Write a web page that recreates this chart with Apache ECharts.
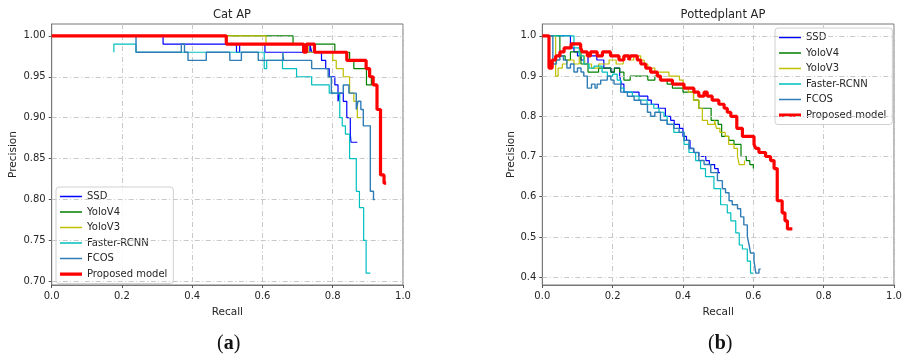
<!DOCTYPE html>
<html><head><meta charset="utf-8">
<script src="https://cdn.jsdelivr.net/npm/echarts@6/dist/echarts.min.js"></script>
<style>html,body{margin:0;padding:0;background:#fff}#c{width:908px;height:360px}</style>
</head><body><div id="c"></div>
<script>
// ---------- Cat AP (recall, precision) ----------
const catSSD = [[0,1.0],[0.317,0.99],[0.526,0.98],[0.535,0.99],[0.607,0.98],[0.735,0.99],[0.74,0.98],[0.768,0.97],[0.78,0.96],[0.79,0.95],[0.806,0.94],[0.815,0.92],[0.82,0.93],[0.83,0.92],[0.84,0.90],[0.85,0.88],[0.852,0.87],[0.87,0.87]];
const catYoloV4 = [[0,1.0],[0.687,0.99],[0.806,0.98],[0.848,0.97],[0.86,0.96],[0.896,0.94],[0.91,0.95],[0.912,0.94]];
const catYoloV3 = [[0,1.0],[0.61,0.99],[0.73,0.98],[0.80,0.97],[0.81,0.96],[0.83,0.95],[0.848,0.93],[0.86,0.92],[0.87,0.90],[0.88,0.90]];
const catFaster = [[0.177,0.98],[0.177,0.99],[0.24,0.98],[0.605,0.96],[0.612,0.97],[0.657,0.96],[0.697,0.95],[0.74,0.94],[0.79,0.93],[0.82,0.90],[0.827,0.89],[0.836,0.88],[0.848,0.85],[0.867,0.81],[0.876,0.79],[0.888,0.75],[0.895,0.71],[0.907,0.71]];
const catFCOS = [[0,1.0],[0.24,0.98],[0.369,0.99],[0.378,0.98],[0.388,0.97],[0.44,0.98],[0.507,0.97],[0.54,0.98],[0.588,0.97],[0.658,0.98],[0.66,0.97],[0.74,0.96],[0.787,0.95],[0.796,0.93],[0.83,0.94],[0.846,0.93],[0.867,0.91],[0.872,0.92],[0.88,0.91],[0.887,0.89],[0.907,0.81],[0.916,0.80],[0.92,0.80]];
const catProposed = [[0,1.0],[0.497,0.99],[0.717,0.98],[0.725,0.99],[0.748,0.98],[0.84,0.97],[0.895,0.96],[0.905,0.95],[0.915,0.94],[0.926,0.91],[0.936,0.83],[0.946,0.82],[0.952,0.82]];

// ---------- Pottedplant AP ----------
const potSSD = [[0,1.0],[0.08,0.97],[0.09,0.96],[0.10,0.95],[0.11,0.94],[0.12,0.93],[0.13,0.95],[0.155,0.94],[0.175,0.92],[0.195,0.91],[0.205,0.92],[0.22,0.90],[0.225,0.88],[0.232,0.86],[0.26,0.86],[0.275,0.85],[0.30,0.84],[0.31,0.83],[0.33,0.82],[0.35,0.80],[0.365,0.79],[0.375,0.78],[0.39,0.77],[0.40,0.75],[0.41,0.74],[0.42,0.72],[0.43,0.71],[0.445,0.70],[0.465,0.69],[0.475,0.68],[0.49,0.67],[0.50,0.66],[0.505,0.66]];
const potYoloV4 = [[0,1.0],[0.05,0.95],[0.065,0.94],[0.08,0.96],[0.10,0.96],[0.11,0.93],[0.13,0.91],[0.16,0.92],[0.195,0.91],[0.205,0.92],[0.22,0.91],[0.232,0.89],[0.25,0.90],[0.29,0.90],[0.30,0.89],[0.32,0.90],[0.335,0.89],[0.355,0.88],[0.37,0.87],[0.40,0.86],[0.43,0.84],[0.445,0.82],[0.46,0.82],[0.48,0.79],[0.50,0.78],[0.51,0.75],[0.53,0.74],[0.545,0.73],[0.565,0.70],[0.58,0.69],[0.59,0.68],[0.60,0.67]];
const potYoloV3 = [[0,1.0],[0.038,0.90],[0.045,0.92],[0.057,0.93],[0.07,0.94],[0.09,0.93],[0.105,0.95],[0.12,0.93],[0.14,0.92],[0.16,0.93],[0.19,0.94],[0.21,0.93],[0.23,0.95],[0.25,0.94],[0.26,0.95],[0.28,0.94],[0.29,0.93],[0.30,0.92],[0.32,0.91],[0.36,0.90],[0.39,0.89],[0.40,0.87],[0.415,0.86],[0.43,0.84],[0.445,0.82],[0.455,0.79],[0.47,0.78],[0.49,0.79],[0.495,0.77],[0.505,0.76],[0.52,0.75],[0.53,0.73],[0.545,0.72],[0.555,0.70],[0.56,0.68],[0.575,0.69]];
const potFaster = [[0,1.0],[0.09,0.97],[0.105,0.95],[0.118,0.93],[0.133,0.92],[0.147,0.925],[0.17,0.91],[0.185,0.90],[0.20,0.905],[0.213,0.89],[0.223,0.87],[0.232,0.86],[0.256,0.85],[0.275,0.84],[0.298,0.83],[0.317,0.82],[0.332,0.81],[0.346,0.80],[0.355,0.78],[0.374,0.76],[0.403,0.73],[0.417,0.71],[0.436,0.69],[0.45,0.67],[0.464,0.65],[0.488,0.62],[0.507,0.58],[0.526,0.56],[0.536,0.54],[0.55,0.51],[0.56,0.48],[0.569,0.47],[0.583,0.44],[0.592,0.41],[0.60,0.41]];
const potFCOS = [[0,1.0],[0.03,0.93],[0.04,0.94],[0.05,0.95],[0.06,0.94],[0.07,0.92],[0.08,0.93],[0.09,0.91],[0.10,0.92],[0.11,0.91],[0.118,0.90],[0.128,0.87],[0.14,0.88],[0.15,0.87],[0.156,0.88],[0.166,0.89],[0.185,0.90],[0.195,0.89],[0.204,0.88],[0.223,0.86],[0.242,0.85],[0.261,0.84],[0.28,0.83],[0.299,0.81],[0.308,0.80],[0.32,0.81],[0.336,0.79],[0.355,0.78],[0.374,0.77],[0.389,0.76],[0.403,0.74],[0.417,0.72],[0.431,0.71],[0.445,0.69],[0.46,0.68],[0.479,0.66],[0.498,0.64],[0.512,0.62],[0.521,0.61],[0.531,0.59],[0.54,0.58],[0.555,0.57],[0.564,0.55],[0.573,0.53],[0.583,0.50],[0.588,0.48],[0.592,0.46],[0.602,0.44],[0.607,0.41],[0.616,0.42],[0.621,0.42]];
const potProposed = [[0,1.0],[0.019,0.92],[0.028,0.94],[0.038,0.95],[0.05,0.96],[0.062,0.97],[0.082,0.98],[0.109,0.97],[0.114,0.96],[0.128,0.95],[0.137,0.96],[0.156,0.95],[0.171,0.96],[0.194,0.95],[0.218,0.94],[0.232,0.95],[0.246,0.94],[0.251,0.95],[0.27,0.94],[0.28,0.93],[0.294,0.92],[0.308,0.91],[0.327,0.90],[0.336,0.89],[0.37,0.88],[0.403,0.87],[0.431,0.86],[0.445,0.85],[0.46,0.86],[0.469,0.85],[0.483,0.84],[0.502,0.83],[0.517,0.82],[0.526,0.81],[0.536,0.80],[0.553,0.77],[0.569,0.75],[0.602,0.73],[0.607,0.72],[0.616,0.71],[0.635,0.70],[0.649,0.69],[0.659,0.67],[0.668,0.59],[0.682,0.56],[0.69,0.54],[0.697,0.52],[0.711,0.52]];

const seriesNames = ['SSD','YoloV4','YoloV3','Faster-RCNN','FCOS','Proposed model'];
const xTicks = [0,0.2,0.4,0.6,0.8,1.0];
const catYTicks = [0.70,0.75,0.80,0.85,0.90,0.95,1.00];
const potYTicks = [0.4,0.5,0.6,0.7,0.8,0.9,1.0];
const titles = ['Cat AP','Pottedplant AP'];
const panelLetters = ['a','b'];

const colors = ['#0000ff','#008000','#bfbf00','#00bfbf','#2f7db6','#ff0000'];
const widths = [1.2,1.2,1.2,1.2,1.4,3.2];
const FONT = 'DejaVu Sans';
const TXT = '#262626';
const gridDash = [5,2.5,1,2.5];
// legend line icons (thin band / thick band, with invisible corner specks to fix the box)
const thinIcon = 'path://M0,0h0.01v0.01h-0.01zM0,4.8h22v1.5h-22zM21.99,11h0.01v0.01h-0.01z';
const thickIcon = 'path://M0,0h0.01v0.01h-0.01zM0,3.9h22v3.3h-22zM21.99,11h0.01v0.01h-0.01z';

function yAxisCfg(gi, min, max, ticks, dec, nameGap){
  return {type:'value', gridIndex:gi, min:min, max:max,
    name:'Precision', nameLocation:'middle', nameGap:nameGap,
    nameTextStyle:{fontFamily:FONT,fontSize:10.5,color:TXT},
    axisLine:{show:true,lineStyle:{color:'#777'}},
    axisTick:{show:true,length:3,customValues:ticks,lineStyle:{color:'#555'}},
    axisLabel:{customValues:ticks,fontFamily:FONT,fontSize:10,color:TXT,margin:6,formatter:v=>v.toFixed(dec)},
    splitLine:{show:false}};
}
function xAxisCfg(gi){
  return {type:'value', gridIndex:gi, min:0, max:1, interval:0.2,
    name:'Recall', nameLocation:'middle', nameGap:22,
    nameTextStyle:{fontFamily:FONT,fontSize:10.5,color:TXT},
    axisLine:{show:true,lineStyle:{color:'#777'}},
    axisTick:{show:true,length:3,lineStyle:{color:'#555'}},
    axisLabel:{fontFamily:FONT,fontSize:10,color:TXT,margin:6,formatter:v=>v.toFixed(1)},
    splitLine:{show:true,lineStyle:{color:'#c8c8c8',type:gridDash,width:1}}};
}
function gridLines(gi, ticks){
  return {type:'line', xAxisIndex:gi, yAxisIndex:gi, data:[], silent:true, z:1,
    markLine:{silent:true,symbol:'none',label:{show:false},animation:false,
      lineStyle:{color:'#c8c8c8',type:gridDash,width:1},
      data:ticks.map(v=>({yAxis:v}))}};
}
function mkSeries(gi, datasets){
  return datasets.map((d,i)=>({
    name:seriesNames[i], type:'line', xAxisIndex:gi, yAxisIndex:gi,
    data:d, step:'end', showSymbol:false, symbol:'none', z:3+i,
    lineStyle:{color:colors[i],width:widths[i]}, itemStyle:{color:colors[i]},
    animation:false
  }));
}
function legendCfg(left, top){
  return {orient:'vertical', left:left, top:top, itemWidth:22, itemHeight:11, itemGap:4.5,
    backgroundColor:'rgba(255,255,255,0.85)', borderColor:'#d0d0d0', borderWidth:1, borderRadius:3,
    padding:[4,6,4,4], textStyle:{fontFamily:FONT,fontSize:10,color:TXT},
    data:seriesNames.map((n,i)=>({name:n, icon:(i===5?thickIcon:thinIcon)}))};
}
function panelLabel(cx, letter){
  return {type:'text', left:cx-10, top:334, style:{
    text:'{n|(}{b|'+letter+'}{n|)}',
    rich:{
      n:{fontFamily:'Liberation Serif',fontSize:20,fontWeight:'normal',fill:'#111'},
      b:{fontFamily:'Liberation Serif',fontSize:20,fontWeight:'bold',fill:'#111'}
    }}};
}

const chart = echarts.init(document.getElementById('c'), null, {renderer:'canvas'});
chart.setOption({
  backgroundColor:'#fff',
  animation:false,
  title:[
    {text:titles[0],left:227,top:4,textAlign:'center',textStyle:{fontFamily:FONT,fontSize:11.5,fontWeight:'normal',color:TXT}},
    {text:titles[1],left:718,top:4,textAlign:'center',textStyle:{fontFamily:FONT,fontSize:11.5,fontWeight:'normal',color:TXT}}
  ],
  grid:[
    {left:51.7,right:505,top:24,bottom:75,show:true,borderColor:'#777',borderWidth:1,backgroundColor:'transparent'},
    {left:542.3,right:14,top:24,bottom:75,show:true,borderColor:'#777',borderWidth:1,backgroundColor:'transparent'}
  ],
  xAxis:[xAxisCfg(0), xAxisCfg(1)],
  yAxis:[yAxisCfg(0,0.6955,1.0145,catYTicks,2,33), yAxisCfg(1,0.3805,1.0295,potYTicks,1,26)],
  legend:[legendCfg(56,187), legendCfg(775,28)],
  series:[gridLines(0,catYTicks), gridLines(1,potYTicks)]
    .concat(mkSeries(0,[catSSD,catYoloV4,catYoloV3,catFaster,catFCOS,catProposed]))
    .concat(mkSeries(1,[potSSD,potYoloV4,potYoloV3,potFaster,potFCOS,potProposed])),
  graphic:[panelLabel(227,panelLetters[0]), panelLabel(718,panelLetters[1])]
});
</script></body></html>
